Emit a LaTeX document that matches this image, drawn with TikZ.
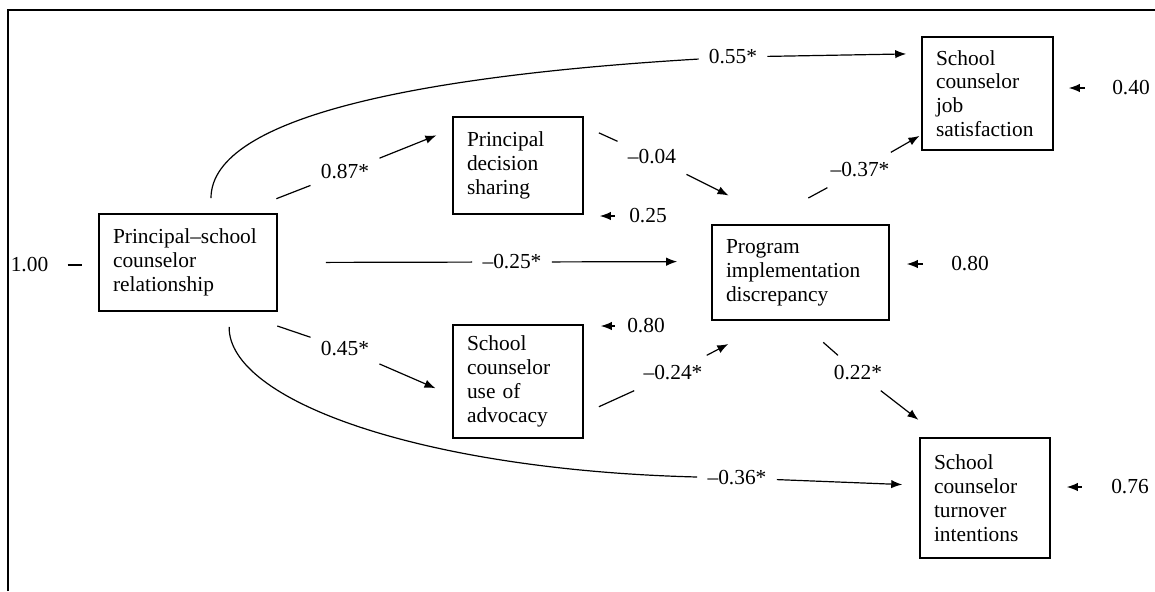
\documentclass[tikz,border=0pt]{standalone}
\usepackage{fontspec}
\setmainfont{Liberation Serif}
\usetikzlibrary{arrows.meta}
\tikzset{
  varbox/.style={draw, line width=0.8pt, align=left, inner xsep=7pt, inner ysep=0pt},
  coef/.style={inner sep=5pt},
  resid/.style={inner sep=0pt},
  link/.style={line width=0.6pt},
  >={Latex[length=5.5pt,width=4.2pt]}
}
\begin{document}
\begin{tikzpicture}[x=0.5pt, y=-0.5pt, font=\fontsize{10.7}{11.9}\selectfont]
  \useasboundingbox (0,0) rectangle (1155,591);
  \draw[line width=0.8pt] (8,591) -- (8,10) -- (1155,10);

  \node[varbox, text width=75pt,   minimum height=48.5pt](Rel) at (188,262.5) {Principal–school\\counselor\\relationship};
  \node[varbox, text width=51pt,   minimum height=48.5pt](Dec) at (518,165.5) {Principal\\decision\\sharing};
  \node[varbox, text width=51pt,   minimum height=56.5pt](Adv) at (518,381.5) {School\\counselor\\use of\\advocacy};
  \node[varbox, text width=74.5pt, minimum height=47.5pt](Imp) at (800.5,272.5) {Program\\implementation\\discrepancy};
  \node[varbox, text width=51.5pt, minimum height=56.5pt](Sat) at (987.5,93.5) {School\\counselor\\job\\satisfaction};
  \node[varbox, text width=51pt,   minimum height=60pt]  (Trn) at (985,498) {School\\counselor\\turnover\\intentions};

  \node[coef](cRelDec) at (345,172) {0.87*};
  \node[coef](cRelAdv) at (345,349) {0.45*};
  \node[coef](cRelImp) at (512,262) {–0.25*};
  \node[coef](cRelSat) at (733,57)  {0.55*};
  \node[coef](cRelTrn) at (737,478) {–0.36*};
  \node[coef](cDecImp) at (652,157) {–0.04};
  \node[coef](cAdvImp) at (673,373) {–0.24*};
  \node[coef](cImpSat) at (860,170) {–0.37*};
  \node[coef](cImpTrn) at (858,373) {0.22*};

  \node[resid](eRel) at (29.5,265) {1.00};
  \node[resid](eDec) at (648,216)  {0.25};
  \node[resid](eAdv) at (646,326)  {0.80};
  \node[resid](eImp) at (970,264)  {0.80};
  \node[resid](eSat) at (1131,88)  {0.40};
  \node[resid](eTrn) at (1130,487) {0.76};

  \draw[link, shorten <=20pt] (Rel.44) -- (cRelDec);
  \draw[link, ->, shorten >=8.5pt] (cRelDec) -- (Dec.151);
  \draw[link, shorten <=22pt] (Rel.-46) -- (cRelAdv);
  \draw[link, ->, shorten >=9.1pt] (cRelAdv) -- (Adv.192);
  \draw[link, shorten <=24pt] (Rel.east) -- (cRelImp);
  \draw[link, ->, shorten >=17pt] (cRelImp) -- (Imp.173);
  \draw[link, shorten <=7.5pt] (Rel.65) .. controls (211,115) and (430,75) .. (cRelSat);
  \draw[link, ->, shorten >=7.5pt] (cRelSat) -- (Sat.149);
  \draw[link, shorten <=7.5pt] (Rel.-50) .. controls (228,400) and (420,470) .. (cRelTrn);
  \draw[link, ->, shorten >=8.5pt] (cRelTrn) -- (Trn.169);
  \draw[link, shorten <=8.3pt] (Dec.31) -- (cDecImp);
  \draw[link, ->, shorten >=32pt] (cDecImp) -- (Imp.107);
  \draw[link, shorten <=8.3pt] (Adv.-26) -- (cAdvImp);
  \draw[link, ->, shorten >=25pt] (cAdvImp) -- (Imp.240);
  \draw[link, shorten <=27.5pt] (Imp.130) -- (cImpSat);
  \draw[link, ->, shorten >=1pt] (cImpSat) -- (Sat.212);
  \draw[link, shorten <=16.3pt] (Imp.268) -- (cImpTrn);
  \draw[link, ->, shorten >=14.2pt] (cImpTrn) -- (Trn.126);

  \draw[link, shorten <=9.5pt, shorten >=8pt] (eRel.east) -- (eRel.east -| Rel.west);
  \draw[link, ->, shorten <=7pt, shorten >=8pt] (eDec.west) -- (eDec.west -| Dec.east);
  \draw[link, ->, shorten <=6pt, shorten >=8.5pt] (eAdv.west) -- (eAdv.west -| Adv.east);
  \draw[link, ->, shorten <=14pt, shorten >=8.5pt] (eImp.west) -- (eImp.west -| Imp.east);
  \draw[link, ->, shorten <=13.5pt, shorten >=7.5pt] (eSat.west) -- (eSat.west -| Sat.east);
  \draw[link, ->, shorten <=14.5pt, shorten >=8pt] (eTrn.west) -- (eTrn.west -| Trn.east);
\end{tikzpicture}
\end{document}
